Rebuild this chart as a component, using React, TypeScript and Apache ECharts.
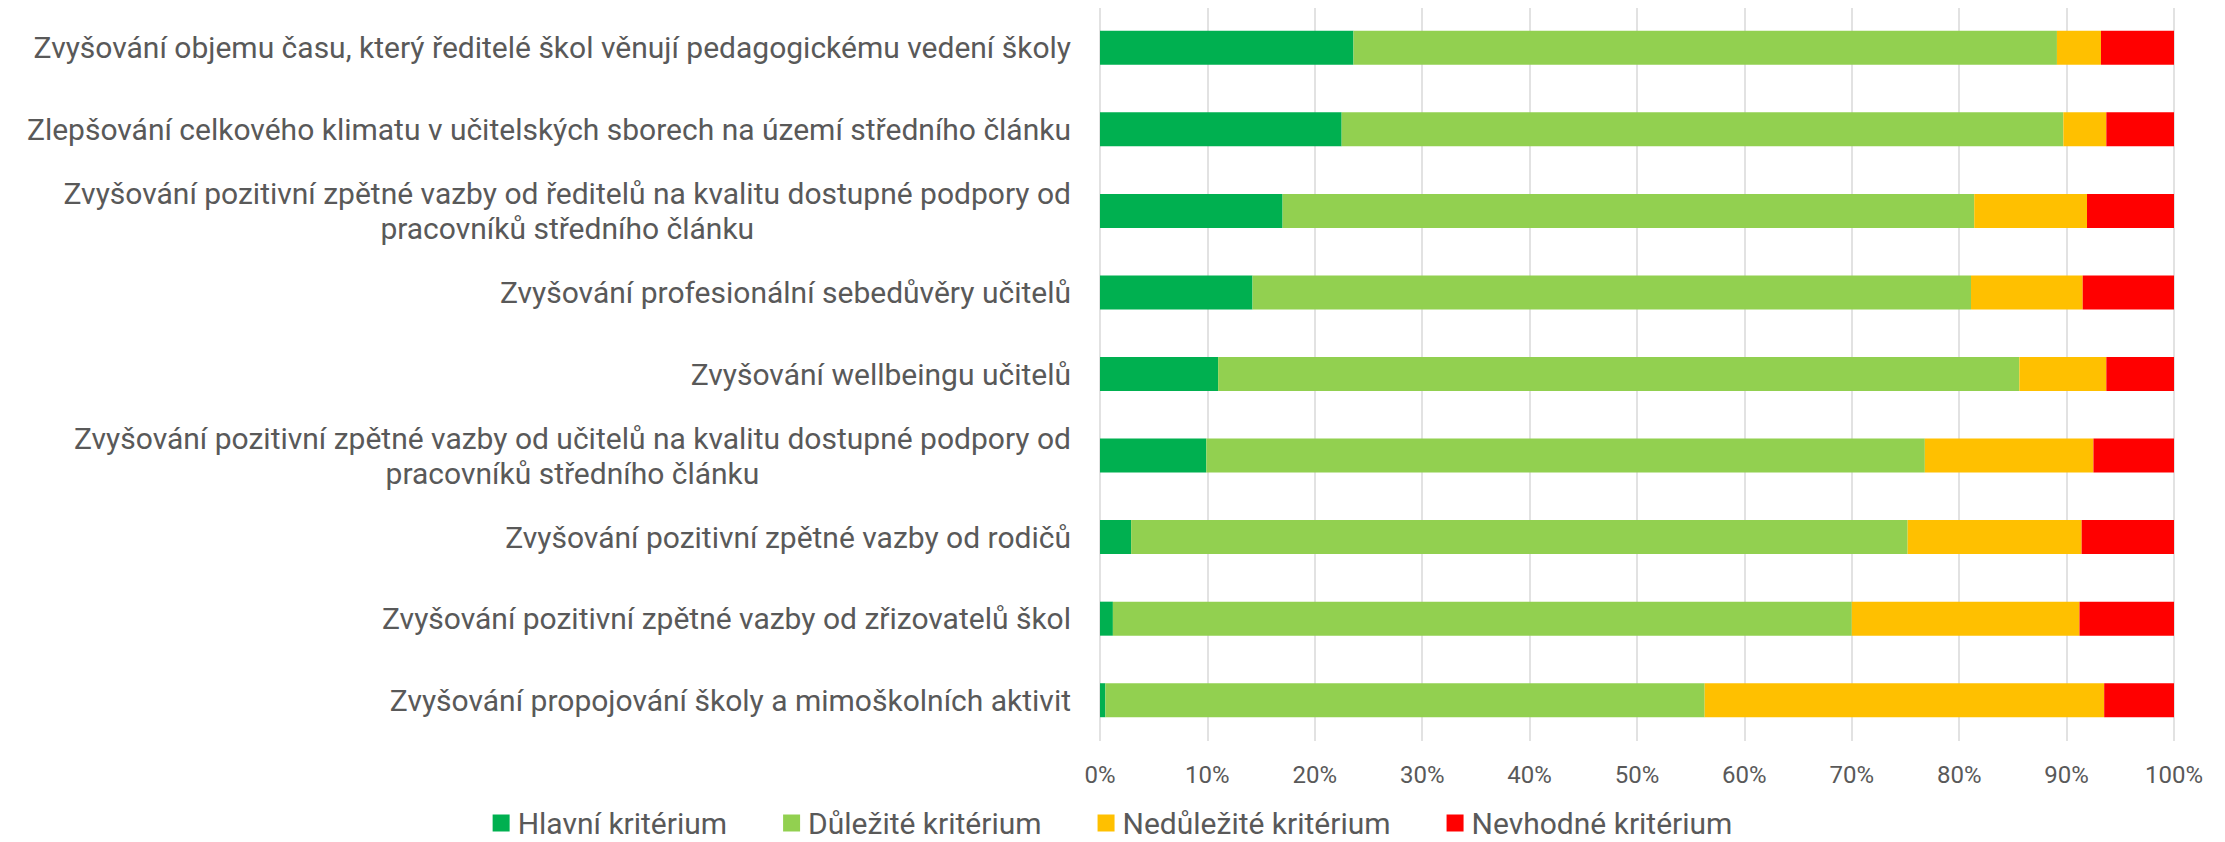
import React, { useEffect, useRef } from "react";
import * as echarts from "echarts";

const categories: string[][] = [
  ["Zvyšování objemu času, který ředitelé škol věnují pedagogickému vedení školy"],
  ["Zlepšování celkového klimatu v učitelských sborech na území středního článku"],
  ["Zvyšování pozitivní zpětné vazby od ředitelů na kvalitu dostupné podpory od", "pracovníků středního článku"],
  ["Zvyšování profesionální sebedůvěry učitelů"],
  ["Zvyšování wellbeingu učitelů"],
  ["Zvyšování pozitivní zpětné vazby od učitelů na kvalitu dostupné podpory od", "pracovníků středního článku"],
  ["Zvyšování pozitivní zpětné vazby od rodičů"],
  ["Zvyšování pozitivní zpětné vazby od zřizovatelů škol"],
  ["Zvyšování propojování školy a mimoškolních aktivit"],
];

const seriesNames = ["Hlavní kritérium", "Důležité kritérium", "Nedůležité kritérium", "Nevhodné kritérium"];
const hlavni = [23.6, 22.5, 17.0, 14.2, 11.0, 9.9, 2.9, 1.2, 0.5];
const dulezite = [65.5, 67.2, 64.4, 66.9, 74.6, 66.9, 72.3, 68.8, 55.8];
const nedulezite = [4.1, 4.0, 10.5, 10.4, 8.1, 15.7, 16.2, 21.2, 37.2];
const nevhodne = [6.8, 6.3, 8.1, 8.5, 6.3, 7.5, 8.6, 8.8, 6.5];
const colors = ["#00B050", "#92D050", "#FFC000", "#FF0000"];
const xTicks = [0, 10, 20, 30, 40, 50, 60, 70, 80, 90, 100];

const FONT = "Roboto";
const TEXT_COLOR = "#595959";

export default function App() {
  const ref = useRef<HTMLDivElement>(null);
  useEffect(() => {
    if (!ref.current) return;
    const chart = echarts.init(ref.current, undefined, { renderer: "svg" });
    const data = [hlavni, dulezite, nedulezite, nevhodne];
    const catKeys = categories.map((c) => c.join("\n"));
    chart.setOption({
      animation: false,
      textStyle: { fontFamily: FONT },
      grid: { left: 1100, right: 51, top: 7, bottom: 101, containLabel: false },
      legend: {
        bottom: -1,
        left: "center",
        itemWidth: 17,
        itemHeight: 17,
        itemGap: 56,
        icon: "rect",
        textStyle: { fontFamily: FONT, fontSize: 30, color: TEXT_COLOR, padding: [0, 0, 0, 3] },
        data: seriesNames,
      },
      xAxis: {
        type: "value",
        min: xTicks[0],
        max: xTicks[xTicks.length - 1],
        interval: 10,
        axisLine: { show: false },
        axisTick: { show: false },
        splitLine: { show: true, lineStyle: { color: "#D9D9D9", width: 1.5 } },
        axisLabel: {
          formatter: (v: number) => v + "%",
          fontFamily: FONT,
          fontSize: 24,
          color: TEXT_COLOR,
          margin: 22,
        },
      },
      yAxis: {
        type: "category",
        inverse: true,
        data: catKeys,
        axisLine: { show: false },
        axisTick: { show: false },
        axisLabel: {
          margin: 29,
          formatter: (v: string) =>
            v
              .split("\n")
              .map((l) => "{c|" + l + "}")
              .join("\n"),
          rich: {
            c: {
              align: "center",
              fontFamily: FONT,
              fontSize: 30,
              color: TEXT_COLOR,
              lineHeight: 35,
            },
          },
        },
      },
      series: seriesNames.map((name, i) => ({
        name,
        type: "bar",
        stack: "total",
        barWidth: 34,
        itemStyle: { color: colors[i] },
        data: data[i],
      })),
    });
    return () => chart.dispose();
  }, []);
  return <div ref={ref} style={{ width: 2225, height: 842, margin: -8 }} />;
}
